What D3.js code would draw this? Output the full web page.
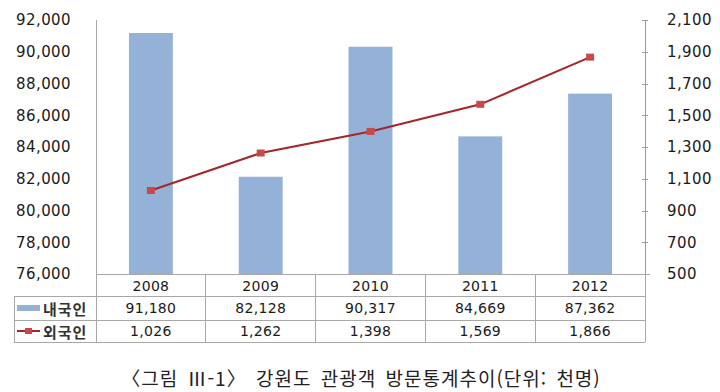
<!DOCTYPE html>
<html lang="ko">
<head>
<meta charset="utf-8" />
<title>강원도 관광객 방문통계추이</title>
<style>
  body { margin: 0; background: #fff; }
  svg text { fill: #1a1a1a; }
  .axis text { font: 15px "DejaVu Sans", sans-serif; letter-spacing: 0.4px; }
  .axis path, .axis line { stroke: #9a9a9a; shape-rendering: crispEdges; }
  .cell { font: 14px "DejaVu Sans", sans-serif; letter-spacing: 0.3px; }
  .grid { stroke: #a8a8a8; stroke-width: 1; shape-rendering: crispEdges; }
  .legend-label { font: bold 15px "Noto Sans CJK KR", sans-serif; fill: #333; letter-spacing: 1px; }
  .caption { font: 19px "Noto Sans CJK KR", sans-serif; fill: #222; letter-spacing: 1px; word-spacing: 3px; }
</style>
</head>
<body>
<div id="chart"></div>
<script src="https://d3js.org/d3.v7.min.js"></script>
<script>
// data
var years = ["2008", "2009", "2010", "2011", "2012"];
var domestic = [91180, 82128, 90317, 84669, 87362];   // 내국인
var foreign = [1026, 1262, 1398, 1569, 1866];         // 외국인
var leftTicks = [76000, 78000, 80000, 82000, 84000, 86000, 88000, 90000, 92000];
var rightTicks = [500, 700, 900, 1100, 1300, 1500, 1700, 1900, 2100];
var seriesNames = ["내국인", "외국인"];

var width = 720, height = 392;
var plot = {left: 96, right: 645, top: 20, bottom: 274};
var rowY = [274, 296, 320, 342]; // table row lines
var tableLeft = 14;

var svg = d3.select("#chart").append("svg")
    .attr("width", width)
    .attr("height", height);

var x = d3.scaleBand().domain(years).range([plot.left, plot.right]);
var yL = d3.scaleLinear().domain([76000, 92000]).range([plot.bottom, plot.top]);
var yR = d3.scaleLinear().domain([500, 2100]).range([plot.bottom, plot.top]);
var fmt = d3.format(",");

// bars
var barW = x.bandwidth() * 0.4;
svg.append("g").selectAll("rect")
    .data(domestic)
    .enter().append("rect")
    .attr("x", function(d, i) { return x(years[i]) + (x.bandwidth() - barW) / 2; })
    .attr("y", function(d) { return yL(d); })
    .attr("width", barW)
    .attr("height", function(d) { return plot.bottom - yL(d); })
    .attr("fill", "#94b2d7");

// left axis
svg.append("g")
    .attr("class", "axis")
    .attr("transform", "translate(" + plot.left + ",0)")
    .call(d3.axisLeft(yL).tickValues(leftTicks).tickFormat(fmt).tickSize(0).tickPadding(25))
    .select(".domain").remove();

// right axis
var ra = svg.append("g")
    .attr("class", "axis")
    .attr("transform", "translate(" + plot.right + ",0)")
    .call(d3.axisRight(yR).tickValues(rightTicks).tickFormat(fmt).tickSizeInner(3).tickSizeOuter(0).tickPadding(19));
ra.selectAll(".tick line").attr("x1", -3);

// table + axis frame lines
var g = svg.append("g");
g.append("line").attr("class", "grid")
    .attr("x1", plot.left).attr("x2", plot.left)
    .attr("y1", plot.top).attr("y2", rowY[3]);
g.append("line").attr("class", "grid")
    .attr("x1", plot.left).attr("x2", plot.right + 5)
    .attr("y1", rowY[0]).attr("y2", rowY[0]);
[1, 2, 3].forEach(function(r) {
  g.append("line").attr("class", "grid")
      .attr("x1", tableLeft).attr("x2", plot.right)
      .attr("y1", rowY[r]).attr("y2", rowY[r]);
});
g.append("line").attr("class", "grid")
    .attr("x1", tableLeft).attr("x2", tableLeft)
    .attr("y1", rowY[1]).attr("y2", rowY[3]);
g.selectAll(".vcol")
    .data(years)
    .enter().append("line")
    .attr("class", "grid")
    .attr("x1", function(d) { return x(d) + x.bandwidth(); })
    .attr("x2", function(d) { return x(d) + x.bandwidth(); })
    .attr("y1", rowY[0]).attr("y2", rowY[3]);

// table texts
function rowText(vals, y, f) {
  svg.append("g").selectAll("text")
    .data(vals)
    .enter().append("text")
    .attr("class", "cell")
    .attr("x", function(d, i) { return x(years[i]) + x.bandwidth() / 2; })
    .attr("y", y)
    .attr("text-anchor", "middle")
    .attr("dominant-baseline", "central")
    .text(f);
}
rowText(years, (rowY[0] + rowY[1]) / 2 + 1, function(d) { return d; });
rowText(domestic, (rowY[1] + rowY[2]) / 2, fmt);
rowText(foreign, (rowY[2] + rowY[3]) / 2, fmt);

// legend keys in table
var ly1 = (rowY[1] + rowY[2]) / 2, ly2 = (rowY[2] + rowY[3]) / 2;
svg.append("rect").attr("x", 17).attr("y", ly1 - 3).attr("width", 23).attr("height", 6).attr("fill", "#94b2d7");
svg.append("line").attr("x1", 17).attr("x2", 40).attr("y1", ly2).attr("y2", ly2)
    .attr("stroke", "#a3262a").attr("stroke-width", 2);
svg.append("rect").attr("x", 25).attr("y", ly2 - 3).attr("width", 7).attr("height", 6).attr("fill", "#c8494a");
svg.append("text").attr("class", "legend-label").attr("x", 43).attr("y", ly1)
    .attr("dominant-baseline", "central").text(seriesNames[0]);
svg.append("text").attr("class", "legend-label").attr("x", 43).attr("y", ly2)
    .attr("dominant-baseline", "central").text(seriesNames[1]);

// line
var line = d3.line()
    .x(function(d, i) { return x(years[i]) + x.bandwidth() / 2; })
    .y(function(d) { return yR(d); });
svg.append("path")
    .datum(foreign)
    .attr("d", line)
    .attr("fill", "none")
    .attr("stroke", "#a3262a")
    .attr("stroke-width", 2);
svg.append("g").selectAll("rect")
    .data(foreign)
    .enter().append("rect")
    .attr("x", function(d, i) { return x(years[i]) + x.bandwidth() / 2 - 4; })
    .attr("y", function(d) { return yR(d) - 3.5; })
    .attr("width", 8)
    .attr("height", 7)
    .attr("fill", "#c8494a");

// caption
svg.append("text")
    .attr("class", "caption")
    .attr("x", 361)
    .attr("y", 377)
    .attr("text-anchor", "middle")
    .attr("dominant-baseline", "central")
    .text("〈그림 Ⅲ-1〉 강원도 관광객 방문통계추이(단위: 천명)");
</script>
</body>
</html>
